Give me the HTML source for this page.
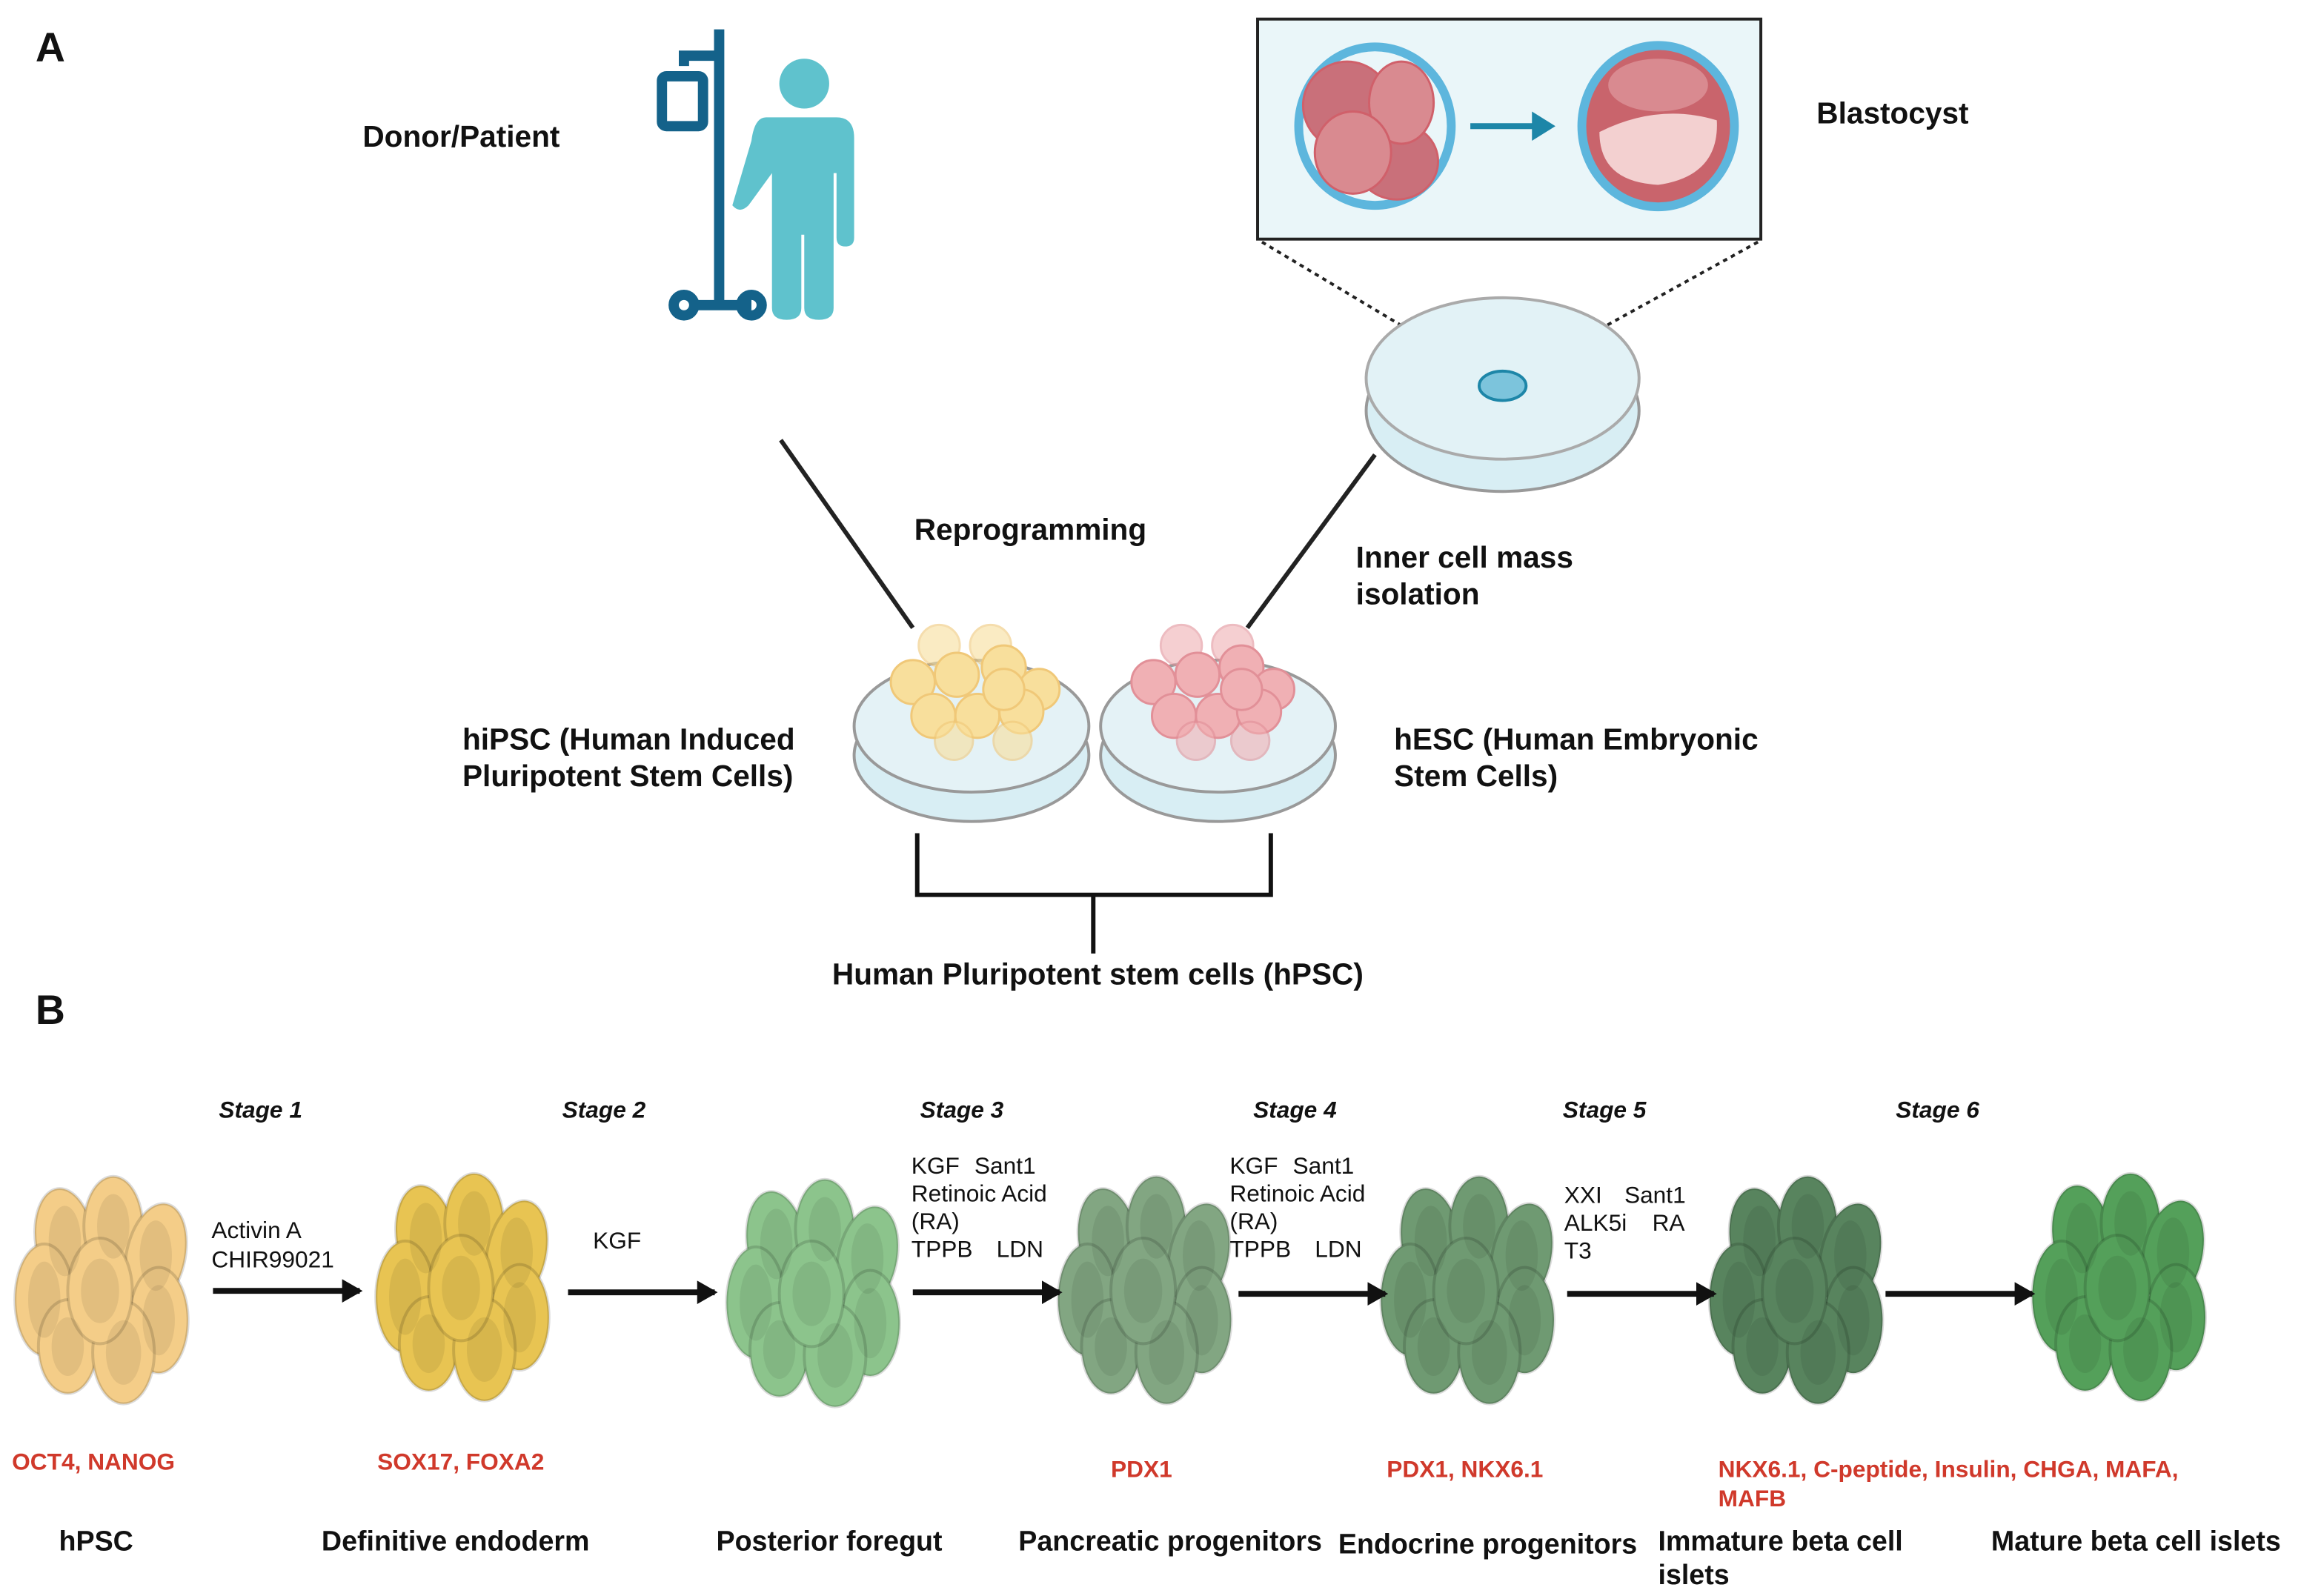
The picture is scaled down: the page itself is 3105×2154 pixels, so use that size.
<!DOCTYPE html>
<html><head><meta charset="utf-8"><style>
html,body{margin:0;padding:0;background:#fff}
svg{display:block}
.b{font-family:"Liberation Sans",sans-serif;font-weight:bold;fill:#111}
.r{font-family:"Liberation Sans",sans-serif;fill:#111;font-size:16px}
.m{font-family:"Liberation Sans",sans-serif;font-weight:bold;fill:#d0392b;font-size:16px}
.s{font-family:"Liberation Sans",sans-serif;font-weight:bold;font-style:italic;fill:#111;font-size:16px}
</style></head><body>
<svg width="3105" height="2154" viewBox="0 0 1568 1088" xmlns="http://www.w3.org/2000/svg">
<defs>
<symbol id="cl" overflow="visible">
<g stroke="rgba(0,0,0,0.14)" stroke-width="2">
<ellipse cx="-28" cy="-32" rx="20" ry="36" transform="rotate(-8 -28 -32)"/>
<ellipse cx="5" cy="-42" rx="20" ry="34"/>
<ellipse cx="34" cy="-22" rx="20" ry="36" transform="rotate(12 34 -22)"/>
<ellipse cx="-42" cy="8" rx="20" ry="38"/>
<ellipse cx="36" cy="22" rx="20" ry="36"/>
<ellipse cx="-26" cy="40" rx="20" ry="32"/>
<ellipse cx="12" cy="44" rx="21" ry="35"/>
<ellipse cx="-4" cy="2" rx="22" ry="36"/>
</g>
<g fill="rgba(0,0,0,0.07)">
<ellipse cx="-28" cy="-32" rx="11" ry="24"/><ellipse cx="5" cy="-42" rx="11" ry="22"/>
<ellipse cx="34" cy="-22" rx="11" ry="24"/><ellipse cx="-42" cy="8" rx="11" ry="26"/>
<ellipse cx="36" cy="22" rx="11" ry="24"/><ellipse cx="-26" cy="40" rx="11" ry="20"/>
<ellipse cx="12" cy="44" rx="12" ry="22"/><ellipse cx="-4" cy="2" rx="13" ry="22"/>
</g>
</symbol>
<marker id="ah" markerWidth="14" markerHeight="16" refX="12" refY="8" orient="auto" markerUnits="userSpaceOnUse"><path d="M0,0 L14,8 L0,16 z" fill="#111"/></marker>
</defs>
<rect width="1568" height="1088" fill="#fff"/>
<text class="b" x="24" y="42" font-size="28">A</text>
<text class="b" x="247" y="100" font-size="20.5">Donor/Patient</text>
<g fill="none" stroke="#14628a" stroke-width="7">
<line x1="490" y1="20" x2="490" y2="205"/>
<path d="M466 45 V38 H490"/>
<rect x="451" y="52" width="28" height="34" rx="3"/>
<line x1="470" y1="208" x2="512" y2="208"/>
<circle cx="466" cy="208" r="7"/><circle cx="512" cy="208" r="7"/>
</g>
<g fill="#5fc2cd">
<circle cx="548" cy="57" r="17"/>
<path d="M522 80 H570 Q582 80 582 94 V162 Q582 168 576 168 Q570 168 570 162 V118 H568 V210 Q568 218 558 218 Q548 218 548 210 V160 H546 V210 Q546 218 536 218 Q526 218 526 210 V118 L510 140 Q504 146 499 140 L512 96 Q514 80 522 80 Z"/>
</g>
<rect x="857" y="13" width="343" height="150" fill="#eaf6f9" stroke="#222" stroke-width="2"/>
<ellipse cx="937" cy="86" rx="52" ry="54" fill="#eaf6f9" stroke="#5db6dd" stroke-width="6"/>
<g stroke="#d0606a" stroke-width="1.5">
<ellipse cx="918" cy="72" rx="30" ry="30" fill="#c9707a"/>
<ellipse cx="952" cy="110" rx="28" ry="26" fill="#c9707a"/>
<ellipse cx="955" cy="70" rx="22" ry="28" fill="#d98a90"/>
<ellipse cx="922" cy="104" rx="26" ry="28" fill="#d98a90"/>
</g>
<line x1="1002" y1="86" x2="1046" y2="86" stroke="#1d86a8" stroke-width="4"/>
<path d="M1044 76 L1060 86 L1044 96 z" fill="#1d86a8"/>
<ellipse cx="1130" cy="86" rx="52" ry="55" fill="#c9646c" stroke="#5db6dd" stroke-width="6"/>
<path d="M1090 90 Q1130 70 1170 82 Q1172 120 1130 126 Q1090 124 1090 90 Z" fill="#f3d0d0"/>
<ellipse cx="1130" cy="58" rx="34" ry="18" fill="#d98a90"/>
<text class="b" x="1238" y="84" font-size="20.5">Blastocyst</text>
<g stroke="#222" stroke-width="2" stroke-dasharray="3,3">
<line x1="860" y1="165" x2="1022" y2="262"/><line x1="1198" y1="165" x2="1022" y2="262"/>
</g>
<ellipse cx="1024" cy="280" rx="93" ry="55" fill="#d8eef4" stroke="#999" stroke-width="2"/>
<ellipse cx="1024" cy="258" rx="93" ry="55" fill="#e2f2f6" stroke="#aaa" stroke-width="2"/>
<ellipse cx="1024" cy="263" rx="16" ry="10" fill="#7cc4dc" stroke="#1d86a8" stroke-width="2"/>
<line x1="532" y1="300" x2="622" y2="428" stroke="#222" stroke-width="3"/>
<line x1="937" y1="310" x2="850" y2="428" stroke="#222" stroke-width="3"/>
<text class="b" x="623" y="368" font-size="20.5">Reprogramming</text>
<text class="b" x="924" y="387" font-size="20.5">Inner cell mass</text>
<text class="b" x="924" y="412" font-size="20.5">isolation</text>
<g stroke="#999" stroke-width="2">
<ellipse cx="662" cy="515" rx="80" ry="45" fill="#d8eef4"/>
<ellipse cx="662" cy="495" rx="80" ry="45" fill="#e4f2f6"/>
<ellipse cx="830" cy="515" rx="80" ry="45" fill="#d8eef4"/>
<ellipse cx="830" cy="495" rx="80" ry="45" fill="#e4f2f6"/>
</g>
<g fill="#f8df9c" stroke="#f0c878" stroke-width="1.5">
<circle cx="640" cy="440" r="14" opacity=".6"/><circle cx="675" cy="440" r="14" opacity=".6"/>
<circle cx="622" cy="465" r="15"/><circle cx="652" cy="460" r="15"/><circle cx="684" cy="455" r="15"/><circle cx="708" cy="470" r="14"/>
<circle cx="636" cy="488" r="15"/><circle cx="666" cy="488" r="15"/><circle cx="696" cy="485" r="15"/><circle cx="684" cy="470" r="14"/>
<circle cx="650" cy="505" r="13" opacity=".6"/><circle cx="690" cy="505" r="13" opacity=".6"/>
</g>
<g fill="#f0b0b4" stroke="#e29098" stroke-width="1.5">
<circle cx="805" cy="440" r="14" opacity=".6"/><circle cx="840" cy="440" r="14" opacity=".6"/>
<circle cx="786" cy="465" r="15"/><circle cx="816" cy="460" r="15"/><circle cx="846" cy="455" r="15"/><circle cx="868" cy="470" r="14"/>
<circle cx="800" cy="488" r="15"/><circle cx="830" cy="488" r="15"/><circle cx="858" cy="485" r="15"/><circle cx="846" cy="470" r="14"/>
<circle cx="815" cy="505" r="13" opacity=".6"/><circle cx="852" cy="505" r="13" opacity=".6"/>
</g>
<text class="b" x="315" y="511" font-size="20.5">hiPSC (Human Induced</text>
<text class="b" x="315" y="536" font-size="20.5">Pluripotent Stem Cells)</text>
<text class="b" x="950" y="511" font-size="20.5">hESC (Human Embryonic</text>
<text class="b" x="950" y="536" font-size="20.5">Stem Cells)</text>
<path d="M625 568 V610 H866 V568 M745 610 V650" fill="none" stroke="#111" stroke-width="3"/>
<text class="b" x="567" y="671" font-size="20.5">Human Pluripotent stem cells (hPSC)</text>
<text class="b" x="24" y="698" font-size="28">B</text>
<text class="s" x="149" y="762">Stage 1</text><text class="s" x="383" y="762">Stage 2</text>
<text class="s" x="627" y="762">Stage 3</text><text class="s" x="854" y="762">Stage 4</text>
<text class="s" x="1065" y="762">Stage 5</text><text class="s" x="1292" y="762">Stage 6</text>
<use href="#cl" x="72" y="878" fill="#f4cd88"/>
<use href="#cl" x="318" y="876" fill="#e8c452"/>
<use href="#cl" x="557" y="880" fill="#8cc48c"/>
<use href="#cl" x="783" y="878" fill="#82a682"/>
<use href="#cl" x="1003" y="878" fill="#6f9a72"/>
<use href="#cl" x="1227" y="878" fill="#58845e"/>
<use href="#cl" x="1447" y="876" fill="#54a05a"/>
<g stroke="#111" stroke-width="4" marker-end="url(#ah)">
<line x1="145" y1="880" x2="245" y2="880"/><line x1="387" y1="881" x2="487" y2="881"/>
<line x1="622" y1="881" x2="722" y2="881"/><line x1="844" y1="882" x2="944" y2="882"/>
<line x1="1068" y1="882" x2="1168" y2="882"/><line x1="1285" y1="882" x2="1385" y2="882"/>
</g>
<text class="r" x="144" y="844">Activin A</text><text class="r" x="144" y="864">CHIR99021</text>
<text class="r" x="404" y="851">KGF</text>
<text class="r" x="621" y="800">KGF</text><text class="r" x="664" y="800">Sant1</text>
<text class="r" x="621" y="819">Retinoic Acid</text>
<text class="r" x="621" y="838">(RA)</text><text class="r" x="621" y="857">TPPB</text><text class="r" x="679" y="857">LDN</text>
<text class="r" x="838" y="800">KGF</text><text class="r" x="881" y="800">Sant1</text>
<text class="r" x="838" y="819">Retinoic Acid</text>
<text class="r" x="838" y="838">(RA)</text><text class="r" x="838" y="857">TPPB</text><text class="r" x="896" y="857">LDN</text>
<text class="r" x="1066" y="820">XXI</text><text class="r" x="1107" y="820">Sant1</text>
<text class="r" x="1066" y="839">ALK5i</text><text class="r" x="1126" y="839">RA</text>
<text class="r" x="1066" y="858">T3</text>
<text class="m" x="8" y="1002">OCT4, NANOG</text>
<text class="m" x="257" y="1002">SOX17, FOXA2</text>
<text class="m" x="757" y="1007">PDX1</text>
<text class="m" x="945" y="1007">PDX1, NKX6.1</text>
<text class="m" x="1171" y="1007">NKX6.1, C-peptide, Insulin, CHGA, MAFA,</text>
<text class="m" x="1171" y="1027">MAFB</text>
<g font-size="19">
<text class="b" x="40" y="1057">hPSC</text>
<text class="b" x="219" y="1057">Definitive endoderm</text>
<text class="b" x="488" y="1057">Posterior foregut</text>
<text class="b" x="694" y="1057">Pancreatic progenitors</text>
<text class="b" x="912" y="1059">Endocrine progenitors</text>
<text class="b" x="1130" y="1057">Immature beta cell</text>
<text class="b" x="1130" y="1080">islets</text>
<text class="b" x="1357" y="1057">Mature beta cell islets</text>
</g>
</svg>
</body></html>
